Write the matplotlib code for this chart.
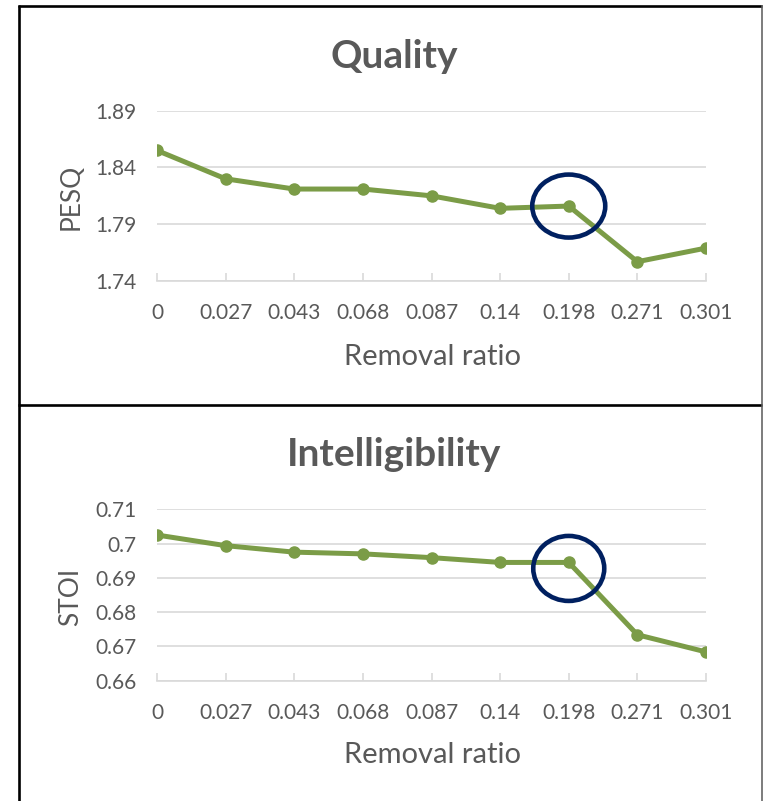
import matplotlib
matplotlib.use("Agg")
import matplotlib.pyplot as plt
from matplotlib.patches import Ellipse
from matplotlib.lines import Line2D

# Data
ratios = ["0", "0.027", "0.043", "0.068", "0.087", "0.14", "0.198", "0.271", "0.301"]
pesq = [1.855, 1.830, 1.821, 1.821, 1.815, 1.804, 1.806, 1.757, 1.769]
stoi = [0.7025, 0.6994, 0.6975, 0.6970, 0.6959, 0.6945, 0.6945, 0.6734, 0.6684]
pesq_ticks = [1.74, 1.79, 1.84, 1.89]
stoi_ticks = [0.66, 0.67, 0.68, 0.69, 0.70, 0.71]
stoi_ticklabels = ["0.66", "0.67", "0.68", "0.69", "0.7", "0.71"]
highlight_idx = 6

W, H = 763, 801
DPI = 100
plt.rcParams["font.family"] = ["Lato", "DejaVu Sans"]

fig = plt.figure(figsize=(W / DPI, H / DPI), dpi=DPI)
fig.patch.set_facecolor("white")

GREEN = "#7B9C47"
NAVY = "#002060"
GRID = "#D9D9D9"
TEXT = "#595959"
TICK_FS = 15


def px_box(left, top, right, bottom):
    return [left / W, 1 - bottom / H, (right - left) / W, (bottom - top) / H]


def style_axes(ax, yticks, yticklabels):
    ax.set_xlim(0, len(ratios) - 1)
    ax.set_ylim(yticks[0], yticks[-1])
    ax.set_xticks(range(len(ratios)))
    ax.set_xticklabels(ratios)
    ax.set_yticks(yticks)
    ax.set_yticklabels(yticklabels)
    for s in ["left", "right", "top"]:
        ax.spines[s].set_visible(False)
    ax.spines["bottom"].set_color(GRID)
    ax.spines["bottom"].set_linewidth(1.2)
    ax.grid(axis="y", color=GRID, linewidth=1.2)
    ax.set_axisbelow(True)
    ax.tick_params(axis="x", direction="in", length=6, width=1.2, color=GRID,
                   labelsize=TICK_FS, labelcolor=TEXT, pad=16)
    ax.tick_params(axis="y", length=0, labelsize=TICK_FS, labelcolor=TEXT, pad=15)
    ax.set_facecolor("none")


def draw_panel(box, values, yticks, yticklabels, ell_px, ell_dy):
    ax = fig.add_axes(box)
    style_axes(ax, yticks, yticklabels)
    x = list(range(len(values)))
    ax.plot(x, values, color=GREEN, linewidth=3.6, marker="o", markersize=8,
            solid_joinstyle="round", solid_capstyle="round", zorder=3)
    # highlight ring sized in pixels
    bbox = ax.get_position()
    ax_w_px = bbox.width * W
    ax_h_px = bbox.height * H
    xr = ax.get_xlim()[1] - ax.get_xlim()[0]
    yr = ax.get_ylim()[1] - ax.get_ylim()[0]
    ew = ell_px[0] * xr / ax_w_px
    eh = ell_px[1] * yr / ax_h_px
    cy = values[highlight_idx] - ell_dy * yr / ax_h_px
    ax.add_patch(Ellipse((highlight_idx, cy), ew, eh, fill=False,
                         edgecolor=NAVY, linewidth=3.3, zorder=4, clip_on=False))
    return ax


ax1 = draw_panel(px_box(157, 110.7, 706, 281), pesq, pesq_ticks,
                 [f"{t:.2f}" for t in pesq_ticks], (73, 63), 0)
ax2 = draw_panel(px_box(157, 509.3, 706, 680.7), stoi, stoi_ticks,
                 stoi_ticklabels, (71, 65), 6)

# Titles and axis labels
fig.text(394 / W, 1 - 68 / H, "Quality", ha="center", va="baseline",
         fontsize=28, fontweight="bold", color=TEXT)
fig.text(394 / W, 1 - 466 / H, "Intelligibility", ha="center", va="baseline",
         fontsize=28, fontweight="bold", color=TEXT)
fig.text(432 / W, 1 - 365 / H, "Removal ratio", ha="center", va="baseline",
         fontsize=21, color=TEXT)
fig.text(432 / W, 1 - 763 / H, "Removal ratio", ha="center", va="baseline",
         fontsize=21, color=TEXT)
fig.text(71 / W, 1 - 197 / H, "PESQ", ha="center", va="center", rotation=90,
         fontsize=19, color=TEXT)
fig.text(71 / W, 1 - 597 / H, "STOI", ha="center", va="center", rotation=90,
         fontsize=19, color=TEXT)

# Panel frames
def fline(x0, y0, x1, y1, color, lw):
    fig.add_artist(Line2D([x0 / W, x1 / W], [1 - y0 / H, 1 - y1 / H],
                          color=color, linewidth=lw, solid_capstyle="butt"))

fline(18.5, 5, 18.5, H, "black", 1.9)
fline(18, 6, 762, 6, "black", 1.9)
fline(18, 405, 762, 405, "black", 1.9)
fline(761.5, 5, 761.5, H, "#595959", 1.1)

fig.savefig("out.png", dpi=DPI, facecolor="white")
